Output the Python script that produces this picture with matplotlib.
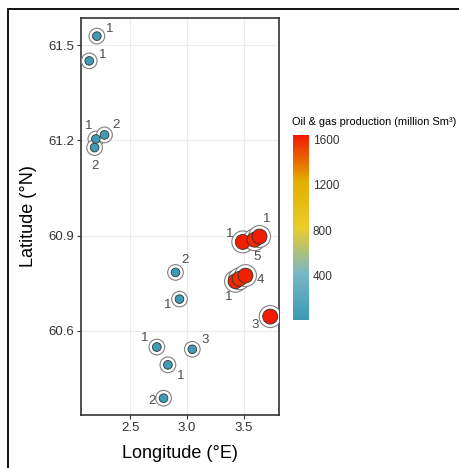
import numpy as np
import matplotlib
matplotlib.use('Agg')
from matplotlib import pyplot as plt
from matplotlib.colors import LinearSegmentedColormap, Normalize
from matplotlib.patches import Rectangle

plt.rcParams['font.family'] = ['Liberation Sans', 'DejaVu Sans']

# field locations, production and number of wells
lon = [2.209, 2.142, 2.200, 2.276, 2.189, 2.899, 2.934, 2.735, 3.046, 2.832, 2.794,
       3.730, 3.425, 3.460, 3.513, 3.489, 3.592, 3.636]
lat = [61.528, 61.450, 61.204, 61.217, 61.177, 60.784, 60.700, 60.549, 60.542, 60.493, 60.388,
       60.645, 60.756, 60.764, 60.774, 60.880, 60.887, 60.897]
production = [40, 35, 30, 45, 40, 35, 30, 60, 30, 55, 40,
              1630, 1600, 1580, 1610, 1620, 1590, 1625]
labels = ['1', '1', '1', '2', '2', '2', '1', '1', '3', '1', '2',
          '3', '1', '', '4', '1', '5', '1']

# label offsets (pixels) used to mimic repelled text
label_dx = [13, 13, -7, 12, 0, 9, -12, -12, 13, 13, -12, -15, -7, 0, 15, -13, 3, 7]
label_dy = [7, 6, 13, 10, -18, 12, -6, 9, 9, -11, -3, -8, -16, 0, -4, 8, -17, 18]

zissou = ["#3B9AB2", "#78B7C5", "#EBCC2A", "#E1AF00", "#F21A00"]
cmap = LinearSegmentedColormap.from_list('zissou', zissou)
norm = Normalize(vmin=10, vmax=1635)

fig = plt.figure(figsize=(4.59, 4.68), dpi=100)
ax = fig.add_axes([0.1765, 0.1132, 0.4314, 0.8483])

prod = np.array(production)
inner_px = 8.5 + prod / 1635 * 6.5
outer_px = inner_px + 7
inner_s = (inner_px * 0.72) ** 2
outer_s = (outer_px * 0.72) ** 2

ax.scatter(lon, lat, s=outer_s, facecolor='white', edgecolor='#808080', linewidth=0.8, zorder=3)
ax.scatter(lon, lat, s=inner_s, c=prod, cmap=cmap, norm=norm, edgecolor='#333333',
           linewidth=0.6, zorder=4)

for x, y, t, dx, dy in zip(lon, lat, labels, label_dx, label_dy):
    ax.annotate(t, (x, y), xytext=(dx, dy), textcoords='offset pixels',
                ha='center', va='center', fontsize=9.5, color='#4d4d4d', zorder=5)

ax.set_xlim(2.07, 3.807)
ax.set_ylim(60.335, 61.585)
ax.set_xticks([2.5, 3.0, 3.5])
ax.set_yticks([60.6, 60.9, 61.2, 61.5])
ax.grid(color='#ebebeb', linewidth=0.8, zorder=0)
ax.set_axisbelow(True)
for s in ax.spines.values():
    s.set_color('#333333')
    s.set_linewidth(1.2)
ax.tick_params(labelsize=9.5, colors='#333333', length=3, width=0.8, pad=2)
ax.set_xlabel('Longitude (°E)', fontsize=13, labelpad=8)
ax.set_ylabel('Latitude (°N)', fontsize=13, labelpad=8)

# colour bar
cax = fig.add_axes([0.639, 0.316, 0.0336, 0.395])
cb = fig.colorbar(plt.cm.ScalarMappable(norm=norm, cmap=cmap), cax=cax)
cb.outline.set_visible(False)
cb.set_ticks([400, 800, 1200, 1600])
cax.tick_params(length=0, labelsize=8.5, pad=3, colors='#333333')
fig.text(0.637, 0.739, 'Oil & gas production (million Sm³)', fontsize=7.9, ha='left', va='center')

# outer frame
fig.patches.append(Rectangle((8 / 459, -0.1), 1.2, 1.1 - 9 / 468, transform=fig.transFigure,
                             fill=False, edgecolor='black', linewidth=1.3))

fig.savefig('out.png', dpi=100)
